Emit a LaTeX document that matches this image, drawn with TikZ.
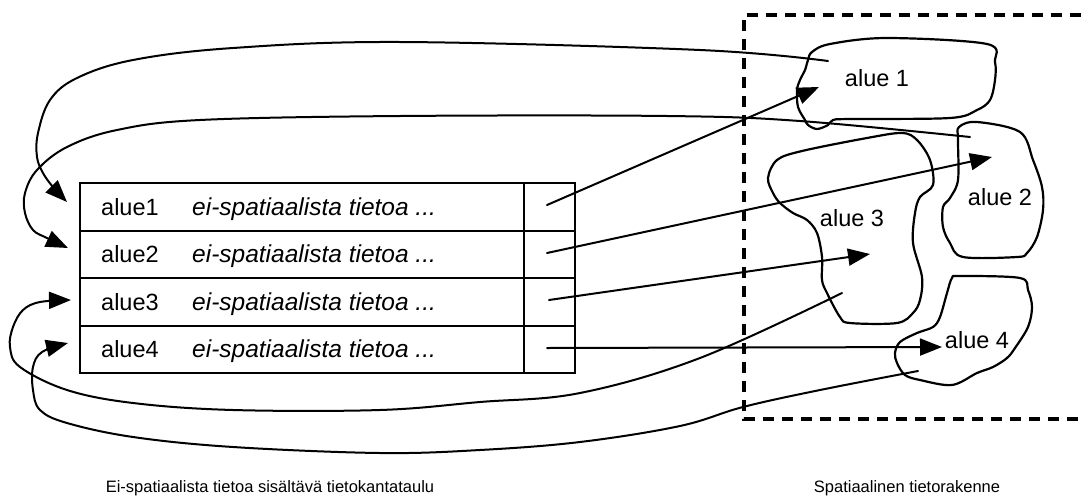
\documentclass[tikz,border=0pt]{standalone}
\usepackage{fontspec}
\setmainfont{Liberation Sans}
\usetikzlibrary{arrows.meta}

\begin{document}
\begin{tikzpicture}[x=1pt,y=-1pt,
  line/.style={line width=2pt, line join=round, line cap=round},
  tip/.style={-{Triangle[length=22pt,width=17pt]}},
  blob/.style={line width=2.2pt, line join=round},
  rowbox/.style={draw, line width=2.2pt, minimum width=495pt, minimum height=47.5pt,
                 anchor=north west, inner sep=0pt},
  cell/.style={font=\fontsize{23.5}{28}\selectfont, anchor=base west, inner sep=0pt},
  info/.style={font=\fontsize{24.5}{29}\selectfont\itshape, anchor=base west, inner sep=0pt},
  region/.style={font=\fontsize{23.5}{28}\selectfont, inner sep=0pt},
  caption/.style={font=\fontsize{16.5}{20}\selectfont, inner sep=0pt},
  frame/.style={line width=4pt, dash pattern=on 11pt off 8pt},
]
\useasboundingbox (0,0) rectangle (1084,501);

% spatial structure frame (right side runs past the edge)
\draw[frame] (1100,15) -- (744,15) -- (744,419) -- (1100,419);

% table rows
\node[rowbox] (row1) at (79,182) {};
\node[rowbox] (row2) at (79,229.5) {};
\node[rowbox] (row3) at (79,277) {};
\node[rowbox] (row4) at (79,324.5) {};
\draw[line width=2.2pt] (row1.north west -| 524,0) -- (row4.south west -| 524,0);

% row contents
\node[cell] (k1) at (101,215) {alue1};
\node[cell] (k2) at (101,262.5) {alue2};
\node[cell] (k3) at (101,310) {alue3};
\node[cell] (k4) at (101,357.5) {alue4};
\node[info] (d1) at (192,215) {ei-spatiaalista tietoa ...};
\node[info] (d2) at (192,262.5) {ei-spatiaalista tietoa ...};
\node[info] (d3) at (192,310) {ei-spatiaalista tietoa ...};
\node[info] (d4) at (192,357.5) {ei-spatiaalista tietoa ...};

% regions
\draw[blob] plot[smooth cycle, tension=0.55] coordinates {
  (830,44) (887,38) (987,44) (995,62) (995,80) (990,100) (977,110) (950,118)
  (850,119) (833,120) (828,125) (817,129) (808,125) (805,120) (798,107) (797,90)
  (800,80) (805,70) (808,60) (812,52)};
\draw[blob] plot[smooth cycle, tension=0.55] coordinates {
  (959,127) (977,122) (1020,132) (1033,160) (1042,187) (1043,210) (1037,237)
  (1027,253) (1017,257) (963,257) (950,243) (943,227) (943,207) (950,198)
  (958,180) (958,140)};
\draw[blob] plot[smooth cycle, tension=0.55] coordinates {
  (777,160) (802,151) (867,138) (902,133) (917,140) (930,160) (933,185) (920,197)
  (915,213) (913,243) (922,277) (920,300) (913,313) (897,323) (850,323) (840,317)
  (827,293) (822,280) (822,257) (817,233) (807,220) (793,213) (780,203) (773,193)
  (768,178)};
\draw[blob] plot[smooth cycle, tension=0.55] coordinates {
  (952,278) (960,276) (1020,278) (1028,290) (1032,307) (1028,327) (1015,348)
  (1007,358) (993,367) (977,373) (952,385) (920,380) (905,375) (897,363)
  (895,353) (900,342) (917,333) (933,327) (940,317) (947,293)};

\node[region] (a1) at (877,78) {alue 1};
\node[region] (a2) at (1000,197) {alue 2};
\node[region] (a3) at (852,218) {alue 3};
\node[region] (a4) at (977,340) {alue 4};

% pointer ends in the last column
\coordinate (p1) at (547,205);
\coordinate (p2) at (547,253);
\coordinate (p3) at (549,300);
\coordinate (p4) at (547,348);
% arrow targets inside the regions
\coordinate (t1) at (819,87);
\coordinate (t2) at (992,157);
\coordinate (t3) at (870,254);
\coordinate (t4) at (942,347);
% starts of the links back to the table
\coordinate (b1) at (828,61);
\coordinate (b2) at (970,137);
\coordinate (b3) at (842,293);
\coordinate (b4) at (918,371);
% row entry points
\coordinate (r1) at (67,202);
\coordinate (r2) at (68,248);
\coordinate (r3) at (71,300);
\coordinate (r4) at (68,343);

% table -> region
\draw[line, tip] (p1) -- (t1);
\draw[line, tip] (p2) -- (t2);
\draw[line, tip] (p3) -- (t3);
\draw[line, tip] (p4) -- (t4);

% region -> table
\draw[line, tip] plot[smooth, tension=0.6] coordinates {
  (b1) (700,50) (400,42) (233,48) (133,60) (77,78) (50,100) (38,133) (37,157)
  (43,173) (53,187) (r1)};
\draw[line, tip] plot[smooth, tension=0.6] coordinates {
  (b2) (800,121) (667,116) (400,116) (200,120) (117,130) (67,147) (37,170)
  (25,193) (25,213) (33,230) (47,238) (r2)};
\draw[line, tip] plot[smooth, tension=0.6] coordinates {
  (b3) (700,358) (580,393) (480,402) (380,410) (233,410) (133,403) (67,390)
  (20,367) (10,347) (13,327) (23,310) (40,302) (r3)};
\draw[line, tip] plot[smooth, tension=0.6] coordinates {
  (b4) (820,390) (743,407) (680,426) (580,442) (480,450) (380,453) (233,447)
  (133,437) (67,423) (40,410) (33,390) (33,367) (42,352) (r4)};

% captions
\node[caption] (c1) at (270,488) {Ei-spatiaalista tietoa sisältävä tietokantataulu};
\node[caption] (c2) at (907,488) {Spatiaalinen tietorakenne};
\end{tikzpicture}
\end{document}
